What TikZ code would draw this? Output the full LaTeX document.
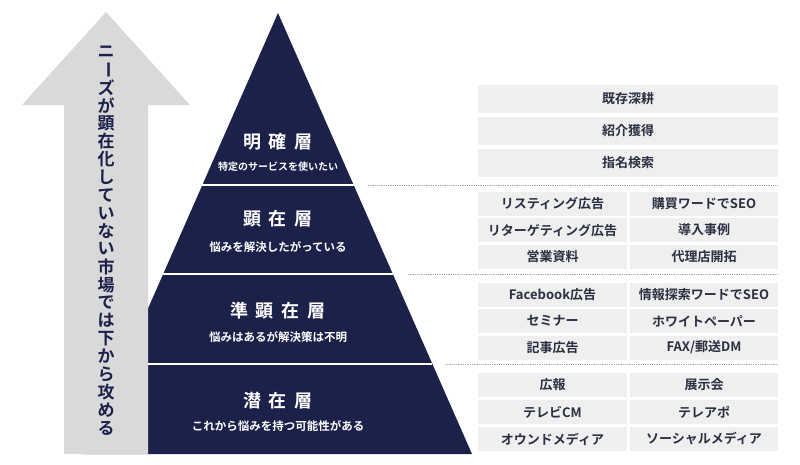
\documentclass[tikz,border=0pt]{standalone}
\usepackage{fontspec}
\setmainfont{Noto Sans CJK JP}[BoldFont={Noto Sans CJK JP Bold}]
\usetikzlibrary{calc}
\definecolor{navy}{HTML}{1C2149}
\definecolor{arrowgray}{HTML}{D9D9D9}
\definecolor{boxgray}{HTML}{EFEFEF}
\definecolor{boxtext}{HTML}{2A3042}
\begin{document}
\begin{tikzpicture}[x=1pt,y=-1pt,
  cell/.style={fill=boxgray, text=boxtext, font=\bfseries\fontsize{13}{15}\selectfont, minimum height=24pt, inner sep=0pt, anchor=center},
  wide/.style={cell, minimum width=300pt, minimum height=28pt},
  half/.style={cell, minimum width=148.5pt},
  title/.style={text=white, font=\bfseries\fontsize{18}{20}\selectfont, inner sep=0pt},
  sub/.style={text=white, font=\bfseries\fontsize{11.5}{13}\selectfont, inner sep=0pt},
  subsmall/.style={text=white, font=\bfseries\fontsize{10}{12}\selectfont, inner sep=0pt},
  sep/.style={draw=white, line width=1.8pt},
  dots/.style={draw=gray!70, line width=0.8pt, dash pattern=on 0.9pt off 0.9pt},
  vchar/.style={text=navy, font=\bfseries\fontsize{17}{17}\selectfont, inner sep=0pt}
]
\useasboundingbox (0,0) rectangle (800,464);
% pyramid
\coordinate (apex) at (278,13);
\coordinate (bl) at (84,454);
\coordinate (br) at (472,454);
\fill[navy] (apex) -- (br) -- (bl) -- cycle;
\foreach \n/\t in {a/0.390,b/0.592,c/0.796} {
  \coordinate (L\n) at ($(apex)!\t!(bl)$);
  \coordinate (R\n) at ($(apex)!\t!(br)$);
  \draw[sep] (L\n) -- (R\n);
}
% arrow
\fill[arrowgray] (64,454) -- (64,105) -- (22,105) -- (106,12) -- (190,105) -- (148,105) -- (148,454) -- cycle;
\foreach \c [count=\i from 0] in {ニ,{\rotatebox[origin=c]{-90}{ー}},ズ,が,顕,在,化,し,て,い,な,い,市,場,で,は,下,か,ら,攻,め,る}
  \node[vchar] (v\i) at (106, 52+\i*17.9) {\c};
% pyramid texts
\node[title] (t1) at (278,142) {明\hspace{8pt}確\hspace{8pt}層};
\node[subsmall] (s1) at (278,167) {特定のサービスを使いたい};
\node[title] (t2) at (278,219) {顕\hspace{8pt}在\hspace{8pt}層};
\node[sub] (s2) at (278,247) {悩みを解決したがっている};
\node[title] (t3) at (278,311) {準\hspace{8pt}顕\hspace{8pt}在\hspace{8pt}層};
\node[sub] (s3) at (278,337) {悩みはあるが解決策は不明};
\node[title] (t4) at (278,401) {潜\hspace{8pt}在\hspace{8pt}層};
\node[sub] (s4) at (278,426) {これから悩みを持つ可能性がある};
% dotted lines
\coordinate (d1s) at (368,185); \coordinate (d1e) at (778,185);
\coordinate (d2s) at (408,274.5); \coordinate (d2e) at (778,274.5);
\coordinate (d3s) at (445,364.5); \coordinate (d3e) at (778,364.5);
\draw[dots] (d1s) -- (d1e);
\draw[dots] (d2s) -- (d2e);
\draw[dots] (d3s) -- (d3e);
% boxes
\node[wide] (k1) at (628,99) {既存深耕};
\node[wide] (k2) at (628,131) {紹介獲得};
\node[wide] (k3) at (628,163) {指名検索};
\node[half] (a1) at (552.5,203.5) {リスティング広告};
\node[half] (a2) at (704,203.5) {購買ワードでSEO};
\node[half] (a3) at (552.5,230) {リターゲティング広告};
\node[half] (a4) at (704,230) {導入事例};
\node[half] (a5) at (552.5,256.5) {営業資料};
\node[half] (a6) at (704,256.5) {代理店開拓};
\node[half] (b1) at (552.5,294.5) {Facebook広告};
\node[half] (b2) at (704,294.5) {情報探索ワードでSEO};
\node[half] (b3) at (552.5,321) {セミナー};
\node[half] (b4) at (704,321) {ホワイトペーパー};
\node[half] (b5) at (552.5,347.5) {記事広告};
\node[half] (b6) at (704,347.5) {FAX/郵送DM};
\node[half] (c1) at (552.5,385) {広報};
\node[half] (c2) at (704,385) {展示会};
\node[half] (c3) at (552.5,412) {テレビCM};
\node[half] (c4) at (704,412) {テレアポ};
\node[half] (c5) at (552.5,439) {オウンドメディア};
\node[half] (c6) at (704,439) {ソーシャルメディア};
\end{tikzpicture}
\end{document}
